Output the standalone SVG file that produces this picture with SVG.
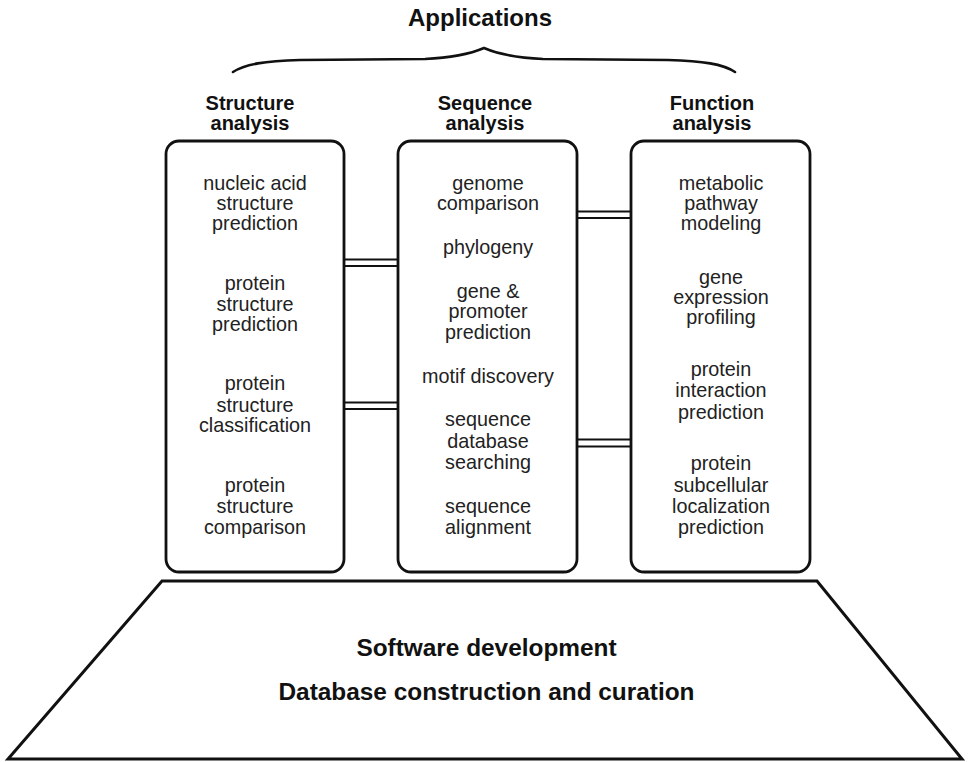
<svg xmlns="http://www.w3.org/2000/svg" width="969" height="762" viewBox="0 0 969 762">
<style>
.bg{fill:#ffffff}
.box{fill:#ffffff;stroke:#111;stroke-width:2.8}
.conn{stroke:#111;stroke-width:1.8;fill:none}
.brace{fill:none;stroke:#111;stroke-width:2.6;stroke-linecap:round;stroke-linejoin:round}
.t{font-family:"Liberation Sans",Arial,sans-serif;font-size:19.8px;fill:#222;text-anchor:middle}
.h{font-family:"Liberation Sans",Arial,sans-serif;font-size:20px;font-weight:bold;fill:#111;text-anchor:middle}
.title{font-family:"Liberation Sans",Arial,sans-serif;font-size:24px;font-weight:bold;fill:#111;text-anchor:middle}
.base{font-family:"Liberation Sans",Arial,sans-serif;font-size:24.4px;font-weight:bold;fill:#111;text-anchor:middle}
</style>
<rect class="bg" x="0" y="0" width="969" height="762"/>

<g id="applications">
<text class="title" x="480" y="26">Applications</text>
<path class="brace" d="M 233 72 C 245 64, 265 61, 300 60 L 425 59 C 447 58, 470 54, 484 48 C 498 54, 521 58, 543 59 L 668 60 C 703 61, 723 64, 735 72"/>
</g>

<g id="headers">
<text class="h" x="250" y="110">Structure</text>
<text class="h" x="250" y="130">analysis</text>
<text class="h" x="485" y="110">Sequence</text>
<text class="h" x="485" y="130">analysis</text>
<text class="h" x="712" y="110">Function</text>
<text class="h" x="712" y="130">analysis</text>
</g>

<g id="connectors">
<line class="conn" x1="344" y1="259.5" x2="398" y2="259.5"/>
<line class="conn" x1="344" y1="266" x2="398" y2="266"/>
<line class="conn" x1="344" y1="402.5" x2="398" y2="402.5"/>
<line class="conn" x1="344" y1="409" x2="398" y2="409"/>
<line class="conn" x1="577" y1="211.5" x2="631" y2="211.5"/>
<line class="conn" x1="577" y1="218" x2="631" y2="218"/>
<line class="conn" x1="577" y1="439.5" x2="631" y2="439.5"/>
<line class="conn" x1="577" y1="446.5" x2="631" y2="446.5"/>
</g>

<g id="structure-analysis">
<rect class="box" x="166" y="141" width="178" height="431" rx="13"/>
<text class="t" x="255" y="190">nucleic acid</text>
<text class="t" x="255" y="210">structure</text>
<text class="t" x="255" y="230">prediction</text>
<text class="t" x="255" y="290">protein</text>
<text class="t" x="255" y="311">structure</text>
<text class="t" x="255" y="331">prediction</text>
<text class="t" x="255" y="390">protein</text>
<text class="t" x="255" y="412">structure</text>
<text class="t" x="255" y="432">classification</text>
<text class="t" x="255" y="492">protein</text>
<text class="t" x="255" y="513">structure</text>
<text class="t" x="255" y="534">comparison</text>
</g>

<g id="sequence-analysis">
<rect class="box" x="398" y="141" width="179" height="431" rx="13"/>
<text class="t" x="488" y="190">genome</text>
<text class="t" x="488" y="210">comparison</text>
<text class="t" x="488" y="254">phylogeny</text>
<text class="t" x="488" y="298">gene &amp;</text>
<text class="t" x="488" y="318">promoter</text>
<text class="t" x="488" y="339">prediction</text>
<text class="t" x="488" y="383">motif discovery</text>
<text class="t" x="488" y="426">sequence</text>
<text class="t" x="488" y="448">database</text>
<text class="t" x="488" y="469">searching</text>
<text class="t" x="488" y="513">sequence</text>
<text class="t" x="488" y="534">alignment</text>
</g>

<g id="function-analysis">
<rect class="box" x="631" y="141" width="179" height="431" rx="13"/>
<text class="t" x="721" y="190">metabolic</text>
<text class="t" x="721" y="210">pathway</text>
<text class="t" x="721" y="230">modeling</text>
<text class="t" x="721" y="284">gene</text>
<text class="t" x="721" y="304">expression</text>
<text class="t" x="721" y="324">profiling</text>
<text class="t" x="721" y="376">protein</text>
<text class="t" x="721" y="397">interaction</text>
<text class="t" x="721" y="419">prediction</text>
<text class="t" x="721" y="470">protein</text>
<text class="t" x="721" y="492">subcellular</text>
<text class="t" x="721" y="513">localization</text>
<text class="t" x="721" y="534">prediction</text>
</g>

<g id="foundation">
<polygon points="162,581 817,581 962,759 8,759" fill="#ffffff" stroke="#111" stroke-width="3" stroke-linejoin="miter"/>
<text class="base" x="486.5" y="656">Software development</text>
<text class="base" x="486.5" y="700">Database construction and curation</text>
</g>
</svg>
